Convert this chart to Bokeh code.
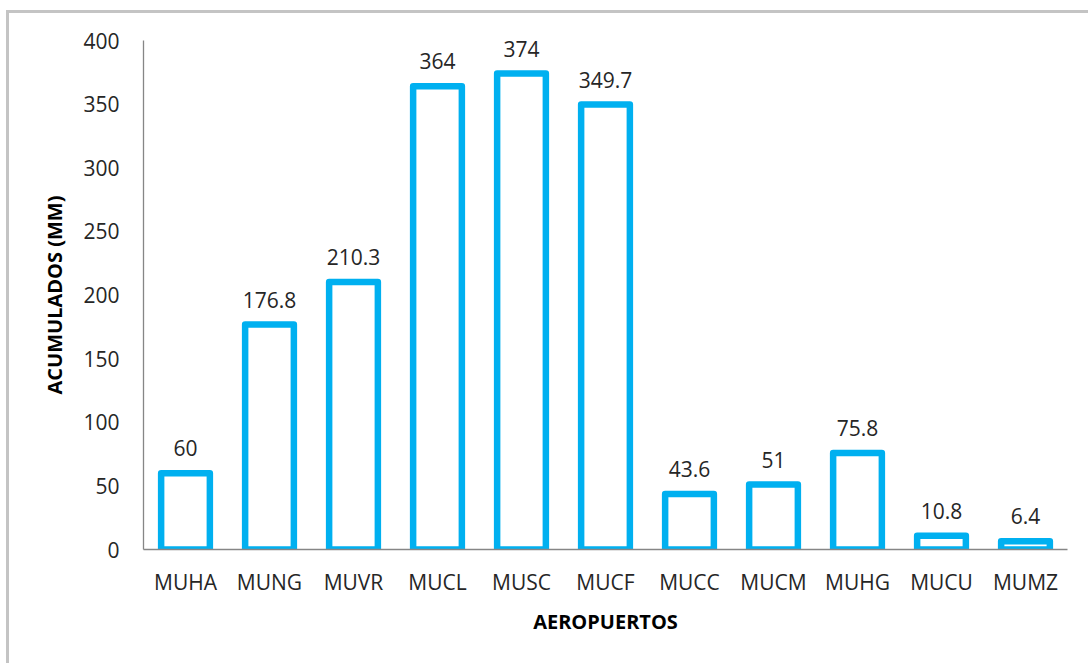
from bokeh.plotting import figure
from bokeh.models import ColumnDataSource, LabelSet, FixedTicker
from bokeh.core.properties import value
from bokeh.embed import file_html
from bokeh.resources import INLINE

categories = ["MUHA", "MUNG", "MUVR", "MUCL", "MUSC", "MUCF", "MUCC", "MUCM", "MUHG", "MUCU", "MUMZ"]
values = [60, 176.8, 210.3, 364, 374, 349.7, 43.6, 51, 75.8, 10.8, 6.4]
value_labels = ["60", "176.8", "210.3", "364", "374", "349.7", "43.6", "51", "75.8", "10.8", "6.4"]
y_ticks = [0, 50, 100, 150, 200, 250, 300, 350, 400]

src = ColumnDataSource(dict(cat=categories, val=values, lab=value_labels))

FONT = "Open Sans"
p = figure(x_range=categories, y_range=(0, 400), width=1082, height=653,
           output_backend="svg", toolbar_location=None,
           min_border_left=134, min_border_right=24, min_border_top=27, min_border_bottom=117)
p.styles = {"margin-left": "6px", "margin-top": "10px",
            "border-left": "3px solid #c4c4c4", "border-top": "3px solid #c4c4c4"}

p.vbar(x="cat", top="val", source=src, width=0.58, fill_color="white",
       line_color="#00B0F0", line_width=6.5, line_join="round")

labels = LabelSet(x="cat", y="val", text="lab", source=src, text_align="center",
                  text_baseline="alphabetic", y_offset=17, text_font=value(FONT),
                  text_font_size=value("21px"), text_color=value("#262626"))
p.add_layout(labels)

p.xgrid.grid_line_color = None
p.ygrid.grid_line_color = None
p.outline_line_color = None
p.background_fill_color = "white"
p.border_fill_color = "white"

p.yaxis.ticker = FixedTicker(ticks=y_ticks)
p.yaxis.minor_tick_line_color = None
for ax in (p.xaxis[0], p.yaxis[0]):
    ax.major_tick_in = 0
    ax.major_tick_out = 0
    ax.axis_line_color = "#868686"
    ax.axis_line_width = 1.3
    ax.major_label_text_font = FONT
    ax.major_label_text_font_size = "21px"
    ax.major_label_text_color = "#262626"
    ax.axis_label_text_font = FONT
    ax.axis_label_text_font_style = "bold"
    ax.axis_label_text_font_size = "20px"
    ax.axis_label_text_color = "black"

p.yaxis.major_label_standoff = 24
p.yaxis.axis_label = "ACUMULADOS (MM)"
p.yaxis.axis_label_standoff = 12
p.xaxis.major_label_standoff = 18
p.xaxis.axis_label = "AEROPUERTOS"
p.xaxis.axis_label_standoff = 9

open("out.html", "w").write(file_html(p, INLINE))
